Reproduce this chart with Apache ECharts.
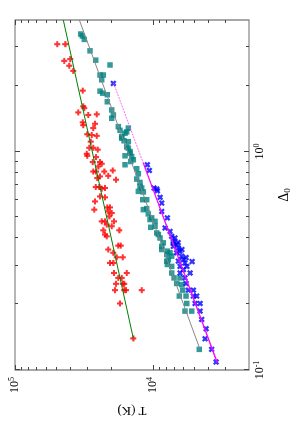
<!DOCTYPE html>
<html><head><meta charset="utf-8">
<script src="https://cdn.jsdelivr.net/npm/echarts@6/dist/echarts.min.js"></script>
<style>
html,body{margin:0;padding:0;width:305px;height:436px;overflow:hidden;background:#fff;}
#wrap{position:absolute;left:0;top:0;width:436px;height:305px;transform-origin:0 0;transform:translate(0,436px) rotate(-90deg);}
</style></head><body>
<div id="wrap"></div>
<script>
// ---- data (Δ0, T in K) ----
const redDelta = [3.10,3.10,2.60,2.65,2.47,2.34,1.90,1.61,1.58,1.51,
  1.47,1.48,1.36,1.32,1.34,1.28,1.20,1.19,1.18,1.11,
  1.04,1.04,1.02,0.976,0.956,0.943,0.895,0.895,0.879,0.854,
  0.810,0.810,0.810,0.819,0.774,0.756,0.769,0.743,0.688,0.688,
  0.681,0.676,0.623,0.617,0.591,0.555,0.555,0.542,0.532,0.523,
  0.505,0.479,0.479,0.479,0.463,0.455,0.436,0.436,0.417,0.409,
  0.371,0.371,0.356,0.344,0.328,0.328,0.309,0.309,0.278,0.278,
  0.264,0.264,0.248,0.248,0.248,0.232,0.232,0.232,0.232,0.2016,0.1395];
const redT = [49300,43110,43850,39670,40340,37720,32240,31920,31390,34700,
  29360,25510,32240,31920,26240,27010,29850,27730,25510,28190,
  28860,27010,25080,30150,29850,25810,27280,24140,23470,24830,
  27010,25810,22460,19520,21010,25250,24140,18480,25940,24420,
  22200,23470,24140,22200,26240,21370,20420,26550,21010,19850,
  20660,23470,22200,19100,21580,19850,22840,17480,22200,21580,
  17780,17080,21010,19320,18260,16520,20420,19320,19100,15450,
  17780,16800,18480,16520,16080,18780,16080,15630,12020,17280,13830];

const tealDelta = [3.45,3.38,3.26,2.89,2.62,2.49,2.24,2.24,2.13,1.89,
  1.85,1.82,1.69,1.55,1.47,1.42,1.30,1.25,1.28,1.23,
  1.17,1.12,1.11,1.05,1.00,0.956,0.949,0.900,0.834,0.791,
  0.748,0.722,0.681,0.653,0.602,0.602,0.542,0.548,0.518,0.497,
  0.479,0.450,0.455,0.417,0.402,0.382,0.382,0.356,0.350,0.344,
  0.332,0.320,0.304,0.298,0.278,0.264,0.264,0.249,0.246,0.232,
  0.218,0.218,0.2016,0.186,0.186,0.1243,
  0.870,0.917,1.036,0.983,1.151,1.213,0.657,0.488,0.424,0.368,0.338,0.315,0.692];
const tealT = [33340,32450,31390,28530,25940,20420,24140,22840,23470,24140,
  23080,21370,21370,19850,19320,19850,17780,17280,15040,15450,
  16800,16160,15040,15450,14620,15890,14210,14450,13070,12720,
  13070,12370,12020,11700,11820,11060,11700,11060,10770,10170,
  9620,10340,9620,9100,8850,8380,7090,8600,7830,7490,
  7280,7700,7830,7280,7280,7000,6340,6700,6160,6060,
  6410,5730,5660,5830,5210,4590,
  15890,13830,15040,14620,16800,15890,12720,10460,9350,8600,7910,7910,12370];

const blueDelta = [2.05,0.870,0.819,0.681,0.661,0.617,0.581,0.532,0.497,0.447,
  0.431,0.409,0.402,0.388,0.375,0.368,0.362,0.350,0.344,0.332,
  0.320,0.315,0.309,0.298,0.298,0.288,0.278,0.278,0.264,0.249,
  0.232,0.232,0.218,0.218,0.2016,0.2016,0.186,0.1704,0.1545,0.139,
  0.1243,0.1088,0.383,0.356,0.327,0.3135,0.674];
const blueT = [19320,10940,10580,9790,9260,8850,8600,8600,7830,8140,
  7490,7280,6890,7090,6700,7090,6520,6340,6700,6160,
  6000,6520,5830,6340,5660,6000,5360,6340,5830,5730,
  5510,5070,4790,5070,4930,4535,4535,4410,4100,4170,
  3730,3470,6550,6130,5730,5180,9350];

// fit lines (end points)
const greenFitDelta = [0.1395, 4.0];
const greenFitT = [13830, 44600];
const greyFitDelta = [0.1243, 4.0];
const greyFitT = [4535, 34100];
const magentaFitDelta = [2.06, 0.1084];
const magentaFitT = [19260, 3413];
const magentaSolidDelta = [0.888, 0.1084];
const magentaSolidT = [11720, 3413];

// axes
const deltaRange = [0.1, 4];
const tRange = [2000, 100000];
const deltaMajorTicks = [0.1, 1];
const deltaMinorTicks = [0.2,0.3,0.4,0.5,0.6,0.7,0.8,0.9,2,3];
const tMajorTicks = [10000, 100000];
const tMinorTicks = [3000,4000,5000,6000,7000,8000,9000,20000,30000,40000,50000,60000,70000,80000,90000];

const zip = (a, b) => a.map((v, i) => [v, b[i]]);
const FONT = 'Liberation Serif';
const PLUS = 'path://M2.6,0H5.4V2.6H8V5.4H5.4V8H2.6V5.4H0V2.6H2.6Z';

function decadeLabel(v) {
  const l = Math.log10(v);
  const e = Math.round(l);
  if (Math.abs(l - e) > 1e-6) return '';
  return '{b|10}{s|' + e + '}';
}
const richLab = {
  b: {fontFamily: FONT, fontSize: 12, color: '#000', lineHeight: 14},
  s: {fontFamily: FONT, fontSize: 8, color: '#000', verticalAlign: 'top', lineHeight: 14}
};

function tickSeries(vals, isX, len) {
  return {
    type: 'custom', clip: false, silent: true, z: 6,
    data: vals.map(v => isX ? [v, tRange[0]] : [deltaRange[0], v]),
    renderItem(params, api) {
      const cs = params.coordSys;
      const p = api.coord([api.value(0), api.value(1)]);
      const st = {stroke: '#444', lineWidth: 1};
      if (isX) {
        const x = Math.round(p[0]) + 0.5;
        const b = cs.y + cs.height, t = cs.y;
        return {type: 'group', children: [
          {type: 'line', shape: {x1: x, y1: b, x2: x, y2: b - len}, style: st},
          {type: 'line', shape: {x1: x, y1: t, x2: x, y2: t + len}, style: st}
        ]};
      } else {
        const y = Math.round(p[1]) + 0.5;
        const l = cs.x, r = cs.x + cs.width;
        return {type: 'group', children: [
          {type: 'line', shape: {x1: l, y1: y, x2: l + len, y2: y}, style: st},
          {type: 'line', shape: {x1: r, y1: y, x2: r - len, y2: y}, style: st}
        ]};
      }
    }
  };
}

const chart = echarts.init(document.getElementById('wrap'), null, {renderer: 'canvas', width: 436, height: 305});
chart.setOption({
  animation: false,
  backgroundColor: '#fff',
  grid: {left: 66, right: 20, top: 15, bottom: 56, show: true, borderColor: '#6e6e6e', borderWidth: 1.2, backgroundColor: 'transparent'},
  xAxis: {
    type: 'log', logBase: 10, min: deltaRange[0], max: deltaRange[1],
    axisLine: {show: false}, axisTick: {show: false}, splitLine: {show: false},
    axisLabel: {formatter: decadeLabel, rich: richLab, margin: 4, showMinLabel: true, showMaxLabel: true},
    name: '{d|Δ}{u|0}', nameLocation: 'middle', nameGap: 27,
    nameTextStyle: {rich: {
      d: {fontFamily: FONT, fontSize: 14, color: '#000', lineHeight: 16},
      u: {fontFamily: FONT, fontSize: 9, color: '#000', verticalAlign: 'bottom', lineHeight: 16}
    }}
  },
  yAxis: {
    type: 'log', logBase: 10, min: tRange[0], max: tRange[1],
    axisLine: {show: false}, axisTick: {show: false}, splitLine: {show: false},
    axisLabel: {formatter: decadeLabel, rich: richLab, margin: 7},
    name: 'T (K)', nameLocation: 'middle', nameGap: 33, nameRotate: 90,
    nameTextStyle: {fontFamily: FONT, fontSize: 13, color: '#000'}
  },
  series: [
    {type: 'scatter', data: zip(redDelta, redT), symbol: PLUS, symbolSize: 6,
     itemStyle: {color: '#ff0000'}, z: 2},
    {type: 'scatter', data: zip(tealDelta, tealT), symbol: 'rect', symbolSize: 5.5,
     itemStyle: {color: '#008080'}, z: 2},
    {type: 'scatter', data: zip(blueDelta, blueT), symbol: PLUS, symbolRotate: 45, symbolSize: 6.5,
     itemStyle: {color: '#0000ff'}, z: 2},
    {type: 'line', data: zip(greenFitDelta, greenFitT), symbol: 'none',
     lineStyle: {color: '#008000', width: 1}, z: 4},
    {type: 'line', data: zip(greyFitDelta, greyFitT), symbol: 'none',
     lineStyle: {color: '#888888', width: 1}, z: 4},
    {type: 'line', data: zip(magentaFitDelta, magentaFitT), symbol: 'none',
     lineStyle: {color: '#ff44ff', width: 0.8, type: [2, 1]}, z: 4},
    {type: 'line', data: zip(magentaSolidDelta, magentaSolidT), symbol: 'none',
     lineStyle: {color: '#ff00ff', width: 1.3}, z: 4},
    tickSeries(deltaMajorTicks, true, 5),
    tickSeries(deltaMinorTicks, true, 3),
    tickSeries(tMajorTicks, false, 5),
    tickSeries(tMinorTicks, false, 3)
  ]
});
</script>
</body></html>
